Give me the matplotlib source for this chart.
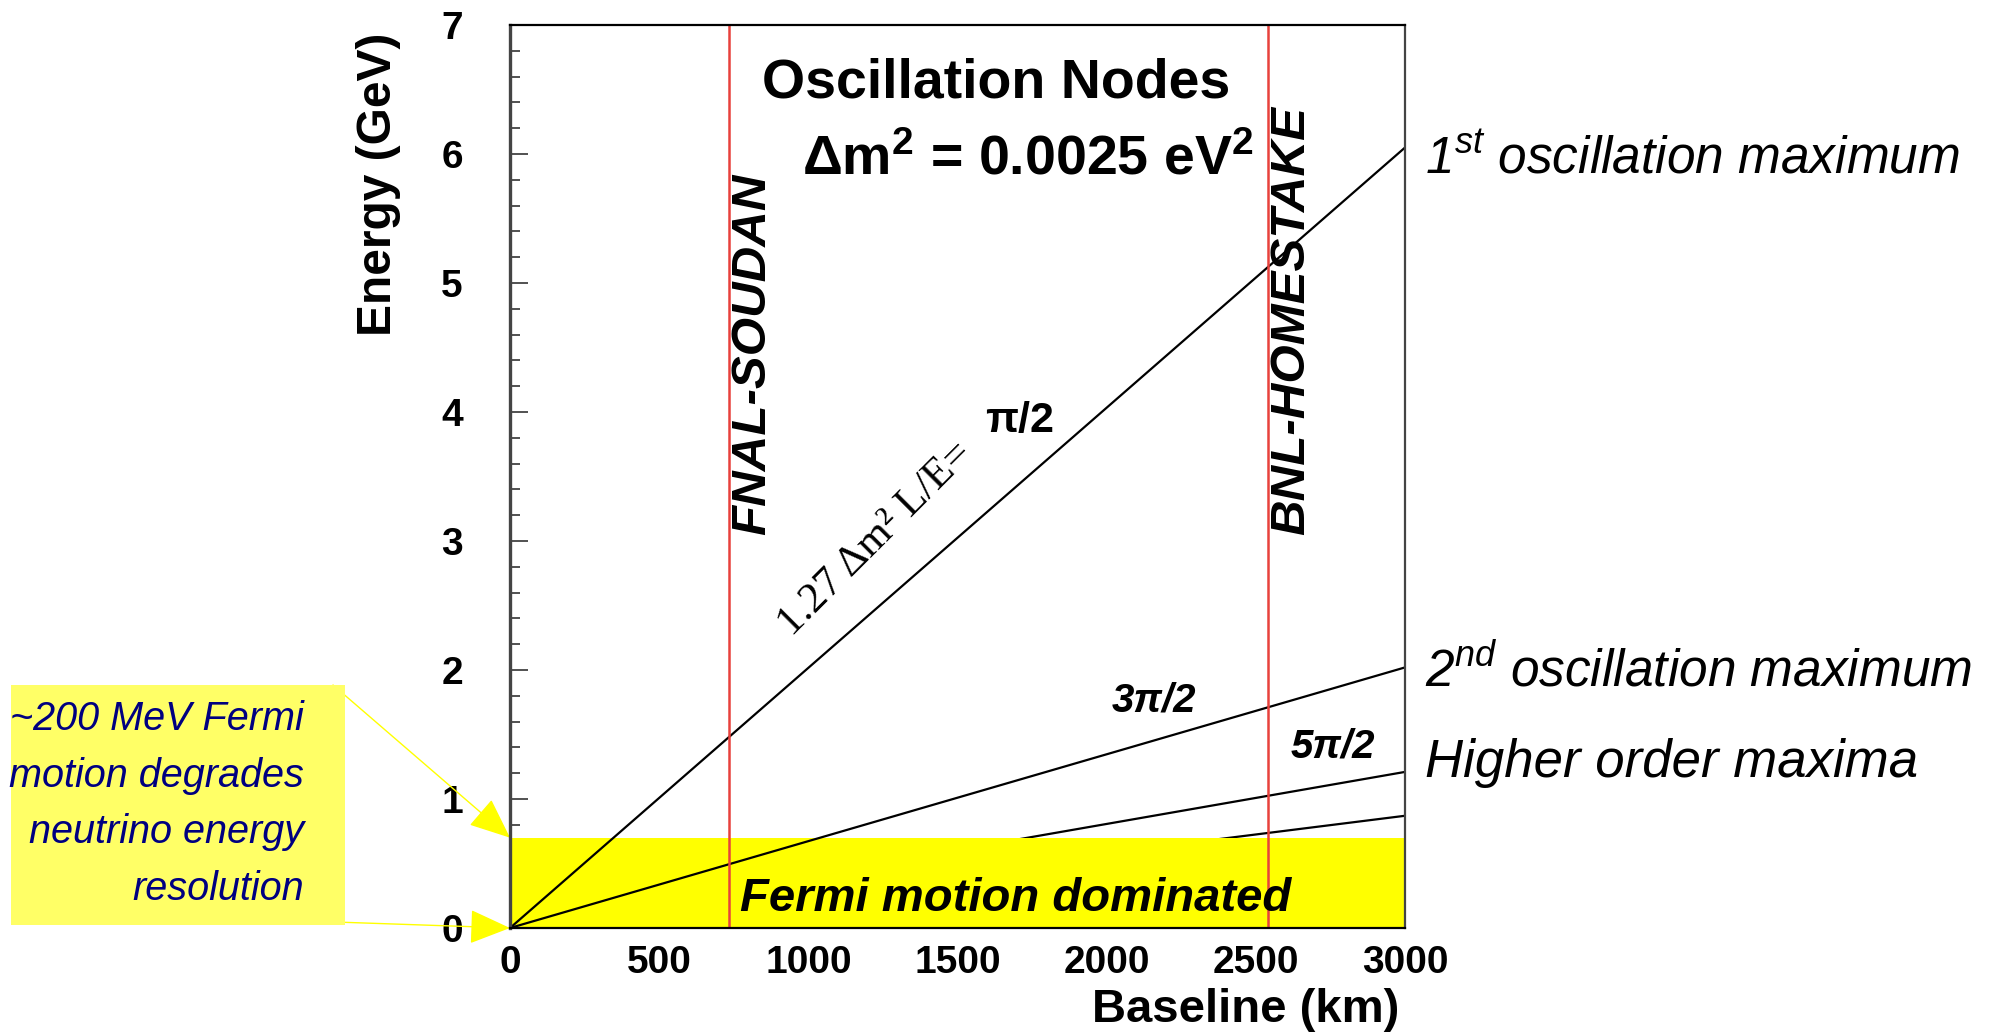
import matplotlib.pyplot as plt
from matplotlib.patches import Rectangle
from matplotlib.ticker import MultipleLocator

# data
baseline_ends = [0, 3000]
node_labels = ['π/2', '3π/2', '5π/2', '7π/2']
energy_at_3000 = [6.05, 2.02, 1.21, 0.87]
fermi_limit = 0.7
detectors = ['FNAL-SOUDAN', 'BNL-HOMESTAKE']
detector_km = [735, 2540]
x_ticks = [0, 500, 1000, 1500, 2000, 2500, 3000]
y_ticks = [0, 1, 2, 3, 4, 5, 6, 7]

plt.rcParams['font.family'] = ['Liberation Sans', 'DejaVu Sans']
plt.rcParams['mathtext.fontset'] = 'custom'
plt.rcParams['mathtext.it'] = 'Liberation Sans:italic'
plt.rcParams['mathtext.rm'] = 'Liberation Sans'
plt.rcParams['mathtext.bf'] = 'Liberation Sans:bold'

W, H = 1999, 1034
fig = plt.figure(figsize=(W / 100, H / 100), dpi=100)
ax = fig.add_axes([510 / W, 1 - 928 / H, 895 / W, 903 / H])

# oscillation node lines (the two lowest ones are hidden under the yellow band)
for i, e in enumerate(energy_at_3000):
    ax.plot(baseline_ends, [0, e], color='black', lw=1.6, zorder=2 if i < 2 else 1.7)

ax.axhspan(0, fermi_limit, color='#ffff00', lw=0, zorder=1.8)

for name, km in zip(detectors, detector_km):
    ax.axvline(km, color='#e8413c', lw=1.8, zorder=2.2)
    ax.text(km + 3, 3.05, name, rotation=90, rotation_mode='anchor', ha='left', va='top',
            fontsize=35.5, fontweight='bold', style='italic', zorder=4)

ax.text(1696, 0.225, 'Fermi motion dominated', ha='center', va='center',
        fontsize=34, fontweight='bold', style='italic', zorder=5)

ax.text(1629, 6.55, 'Oscillation Nodes', ha='center', va='center', fontsize=40, fontweight='bold')
ax.text(1736, 5.95, r'Δm$^{\mathbf{2}}$ = 0.0025 eV$^{\mathbf{2}}$', ha='center', va='center',
        fontsize=40, fontweight='bold')

ax.text(1226, 3.02, '1.27 Δm² L/E=', rotation=45, ha='center', va='center',
        fontsize=31, family='Liberation Serif')
ax.text(1709, 3.93, node_labels[0], ha='center', va='center', fontsize=31, fontweight='bold')
ax.text(2159, 1.76, node_labels[1], ha='center', va='center', fontsize=29, fontweight='bold', style='italic')
ax.text(2757, 1.41, node_labels[2], ha='center', va='center', fontsize=29, fontweight='bold', style='italic')

ax.set_xlim(0, 3000)
ax.set_ylim(0, 7)
ax.set_xticks(x_ticks)
ax.set_yticks(y_ticks)
ax.xaxis.set_minor_locator(MultipleLocator(100))
ax.yaxis.set_minor_locator(MultipleLocator(0.2))
ax.tick_params(which='both', direction='in', top=False, right=False, width=1.2, color='#333333')
ax.tick_params(which='major', length=13, labelsize=28)
ax.tick_params(which='minor', length=7)
ax.tick_params(axis='x', pad=12)
ax.tick_params(axis='y', pad=34)
for lab in ax.get_xticklabels() + ax.get_yticklabels():
    lab.set_fontweight('bold')
for s in ax.spines.values():
    s.set_linewidth(1.6)
    s.set_zorder(3)
ax.spines['left'].set_linewidth(2.4)
ax.spines['left'].set_color('#444444')
ax.spines['right'].set_color('#444444')

ax.set_xlabel('Baseline (km)', fontsize=34, fontweight='bold', loc='right')
ax.xaxis.set_label_coords(0.994, -0.066)
ax.set_ylabel('Energy (GeV)', fontsize=34.5, fontweight='bold', loc='top')
ax.yaxis.set_label_coords(-0.122, 0.992)

# right-hand annotations
fig.text(1425 / W, 1 - 159 / H, '1$^{st}$ oscillation maximum', ha='left', va='center',
         fontsize=37, style='italic')
fig.text(1425 / W, 1 - 672 / H, '2$^{nd}$ oscillation maximum', ha='left', va='center',
         fontsize=37, style='italic')
fig.text(1425 / W, 1 - 763 / H, 'Higher order maxima', ha='left', va='center',
         fontsize=38, style='italic')

# left yellow note with arrows
fig.patches.append(Rectangle((11 / W, 1 - 925 / H), 334 / W, 240 / H, transform=fig.transFigure,
                             facecolor='#ffff66', edgecolor='none', zorder=0))
fig.text(304 / W, 1 - 804 / H, '~200 MeV Fermi\nmotion degrades\nneutrino energy\nresolution',
         ha='right', va='center', multialignment='right', fontsize=28.5, style='italic',
         color='#000080', linespacing=1.62)
arrow = dict(arrowstyle='-|>,head_length=1.3,head_width=0.55', color='#ffff00', lw=1,
             mutation_scale=20, shrinkA=0, shrinkB=0)
ax.annotate('', xy=(0, fermi_limit), xytext=(333 / W, 1 - 685 / H),
            textcoords='figure fraction', arrowprops=arrow, annotation_clip=False)
ax.annotate('', xy=(0, 0), xytext=(335 / W, 1 - 922 / H),
            textcoords='figure fraction', arrowprops=arrow, annotation_clip=False)

fig.savefig('out.png', dpi=100)
